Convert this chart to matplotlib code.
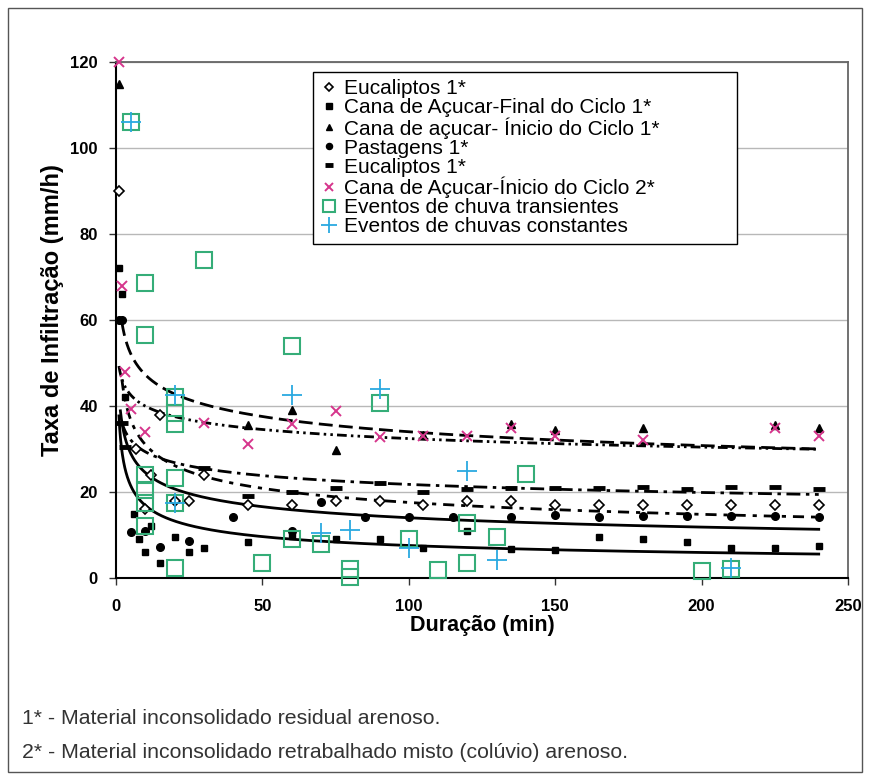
import matplotlib
matplotlib.use('Agg')
import matplotlib.pyplot as plt
import numpy as np
from matplotlib.patches import Rectangle

plt.rcParams['font.family'] = ['Liberation Sans', 'DejaVu Sans']
plt.rcParams['lines.scale_dashes'] = False

# ---------------- data ----------------
eucal_x = [1, 7, 10, 12, 15, 20, 25, 30, 45, 60, 75, 90, 105, 120, 135, 150, 165, 180, 195, 210, 225, 240]
eucal_y = [90, 30, 16, 24, 38, 18, 18, 24, 17, 17, 18, 18, 17, 18, 18, 17, 17, 17, 17, 17, 17, 17]

cana_final_x = [1, 2, 3, 6, 8, 10, 12, 15, 20, 25, 30, 45, 60, 75, 90, 105, 120, 135, 150, 165, 180, 195, 210, 225, 240]
cana_final_y = [72, 66, 42, 15, 9, 6, 12, 3.5, 9.5, 6, 7, 8.3, 9.8, 9, 9, 7, 11, 6.7, 6.5, 9.5, 9, 8.3, 7, 7, 7.4]

cana_ini1_x = [1, 45, 60, 75, 105, 135, 150, 180, 225, 240]
cana_ini1_y = [115, 35.6, 39, 29.8, 33.2, 35.8, 34.4, 35, 35.5, 35]

past_x = [1, 2, 5, 10, 15, 25, 40, 60, 70, 85, 100, 115, 135, 150, 165, 180, 195, 210, 225, 240]
past_y = [60, 60, 10.7, 11, 7.2, 8.6, 14.2, 11, 17.6, 14.2, 14.2, 14.2, 14.2, 14.7, 14.2, 14.4, 14.4, 14.4, 14.4, 14.2]

eucal2_x = [2, 3, 30, 45, 60, 75, 90, 105, 120, 135, 150, 165, 180, 195, 210, 225, 240]
eucal2_y = [36, 30.5, 25.6, 19, 20, 21, 22, 20, 20.7, 21, 21, 21, 21.2, 20.6, 21.2, 21.2, 20.7]

cana_ini2_x = [1, 2, 3, 5, 10, 30, 45, 60, 75, 90, 105, 120, 135, 150, 180, 225, 240]
cana_ini2_y = [120, 68, 48, 39.3, 34, 36, 31.2, 35.8, 38.8, 32.8, 33, 33, 35, 33, 32, 35, 33]

trans_x = [5, 10, 10, 10, 10, 10, 10, 20, 20, 20, 20, 20, 20, 30, 50, 60, 60, 70, 80, 80, 90, 100, 110, 120, 120, 130, 140, 200, 210]
trans_y = [106, 68.5, 56.5, 24, 20.5, 17.5, 12, 42, 38.3, 35.8, 23.2, 17.4, 2.3, 74, 3.5, 54, 9, 8, 2.1, 0.2, 40.6, 9, 1.9, 12.8, 3.4, 9.5, 24.2, 1.7, 2]

const_x = [5, 20, 20, 60, 70, 80, 90, 100, 120, 130, 210]
const_y = [106, 42.5, 17.4, 42.5, 10.4, 11.1, 44, 7, 24.9, 4.2, 2.3]

# power trendlines y = a * x^-b (coefficients)
trend_a = [65.7, 49.3, 39.6, 54.8, 42.9, 37.7]
trend_b = [0.143, 0.091, 0.13, 0.247, 0.243, 0.349]
trend_x0 = [2, 1, 2, 2, 1.5, 1]
trend_x1 = 240

labels = ['Eucaliptos 1*', 'Cana de Açucar-Final do Ciclo 1*', 'Cana de açucar- Ínicio do Ciclo 1*',
          'Pastagens 1*', 'Eucaliptos 1*', 'Cana de Açucar-Ínicio do Ciclo 2*',
          'Eventos de chuva transientes', 'Eventos de chuvas constantes']

x_ticks = [0, 50, 100, 150, 200, 250]
y_ticks = [0, 20, 40, 60, 80, 100, 120]

# ---------------- figure ----------------
fig = plt.figure(figsize=(8.7, 7.8), dpi=100)
ax = fig.add_axes([116/870, 1-578/780, 732/870, 516/780])

fig.patches.append(Rectangle((8/870, 8/780), 854/870, 764/780, transform=fig.transFigure,
                             fill=False, ec='#555555', lw=1))

dash_styles = [(0, (10, 4.5)), (0, (7, 3, 1.8, 3, 1.8, 3)), (0, (10, 4, 2.5, 4)),
               (0, (8, 5, 3, 5)), '-', '-']
for a, b, x0, ls in zip(trend_a, trend_b, trend_x0, dash_styles):
    xs = np.geomspace(x0, trend_x1, 300)
    ax.plot(xs, a * xs ** (-b), color='black', lw=2, linestyle=ls, zorder=2)

green = '#35ad78'
cyan = '#2aa9e0'
pink = '#d6358c'

kw = dict(linestyle='none', clip_on=False, zorder=3)
h1, = ax.plot(eucal_x, eucal_y, marker='D', ms=5, mfc='white', mec='black', mew=1.2, label=labels[0], **kw)
h2, = ax.plot(cana_final_x, cana_final_y, marker='s', ms=5, color='black', label=labels[1], **kw)
h3, = ax.plot(cana_ini1_x, cana_ini1_y, marker='^', ms=6, color='black', label=labels[2], **kw)
h4, = ax.plot(past_x, past_y, marker='o', ms=5.5, color='black', label=labels[3], **kw)
h5, = ax.plot(eucal2_x, eucal2_y, marker='_', ms=8, mew=3.5, color='black', label=labels[4], **kw)
h6, = ax.plot(cana_ini2_x, cana_ini2_y, marker='x', ms=7, mew=1.4, color=pink, label=labels[5], **kw)
h7, = ax.plot(trans_x, trans_y, marker='s', ms=11, mfc='none', mec=green, mew=1.5, label=labels[6], **kw)
h8, = ax.plot(const_x, const_y, marker='+', ms=15, mew=1.3, color=cyan, label=labels[7], **kw)

ax.set_xlim(0, 250)
ax.set_ylim(0, 120)
ax.set_xticks(x_ticks)
ax.set_xticklabels([str(v) for v in x_ticks], fontweight='bold', fontsize=12)
ax.set_yticks(y_ticks)
ax.set_yticklabels([str(v) for v in y_ticks], fontweight='bold', fontsize=12)
ax.tick_params(direction='out', length=5, width=1, color='#333333')
ax.tick_params(axis='x', pad=10)
ax.tick_params(axis='y', pad=8)

ax.yaxis.grid(True, color='#b8b8b8', lw=1)
ax.set_axisbelow(True)
for s in ['left', 'bottom']:
    ax.spines[s].set_color('black')
    ax.spines[s].set_linewidth(1.5)
for s in ['top', 'right']:
    ax.spines[s].set_color('#666666')
    ax.spines[s].set_linewidth(1.3)

ax.set_xlabel('Duração (min)', fontweight='bold', fontsize=15.5, va='center')
ax.xaxis.set_label_coords(0.5, (578-625)/516)
ax.set_ylabel('Taxa de Infiltração (mm/h)', fontweight='bold', fontsize=17, va='center')
ax.yaxis.set_label_coords((53-116)/732, (578-310)/516)

leg = ax.legend(handles=[h1, h2, h3, h4, h5, h6, h7, h8], loc='upper left',
                bbox_to_anchor=((313-116)/732, (578-72)/516, (737-313)/732, 0.0),
                mode='expand', borderaxespad=0, frameon=True, fancybox=False,
                edgecolor='black', framealpha=1, fontsize=15, handlelength=0.8,
                handletextpad=0.35, labelspacing=0.0, borderpad=0.35, markerscale=0.8)
leg.get_frame().set_linewidth(1.0)

fig.text(22/870, 1-718/780, '1* - Material inconsolidado residual arenoso.', fontsize=15.3,
         color='#333333', va='center')
fig.text(22/870, 1-752/780, '2* - Material inconsolidado retrabalhado misto (colúvio) arenoso.',
         fontsize=15.3, color='#333333', va='center')

fig.savefig('out.png', dpi=100)
